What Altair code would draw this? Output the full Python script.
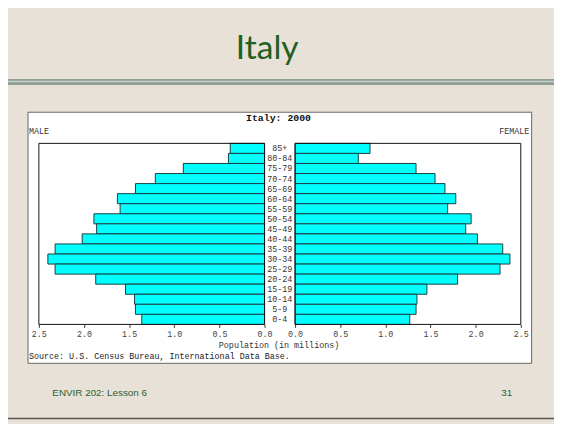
import altair as alt
import pandas as pd

# ---- data (millions) ----
ages = ["85+", "80-84", "75-79", "70-74", "65-69", "60-64", "55-59", "50-54", "45-49",
        "40-44", "35-39", "30-34", "25-29", "20-24", "15-19", "10-14", "5-9", "0-4"]
male = [0.38, 0.40, 0.90, 1.21, 1.43, 1.63, 1.60, 1.89, 1.86,
        2.02, 2.32, 2.40, 2.32, 1.87, 1.54, 1.44, 1.43, 1.36]
female = [0.83, 0.70, 1.34, 1.55, 1.66, 1.78, 1.69, 1.95, 1.89,
          2.02, 2.30, 2.38, 2.27, 1.80, 1.46, 1.35, 1.34, 1.27]
tick_labels = [0.0, 0.5, 1.0, 1.5, 2.0, 2.5]

df = pd.DataFrame({"age": ages, "male": male, "female": female})

# ---- layout ----
G = 0.169            # half gap (in data units) for the age-label column
XD = 2.5 + G
W_TOT, H_TOT = 554, 416
PW, PH = 489, 183.7
PL, PT = 31.3, 134.3
PX0, PY0 = 8 + PL, 8 + PT   # absolute page position of plot origin


def rx(x_abs):
    return x_abs - PX0


def ry(y_abs):
    return y_abs - PY0


one = alt.Data(values=[{"a": 1}])
MONO = "Liberation Mono"

xscale = alt.Scale(domain=[-XD, XD], nice=False, zero=False)
yscale = alt.Scale(domain=ages, paddingInner=0, paddingOuter=0)

tick_vals = [-(t + G) for t in tick_labels] + [t + G for t in tick_labels]
xaxis = alt.Axis(values=tick_vals, labelExpr=f"format(abs(abs(datum.value) - {G}), '.1f')",
                 title=None, grid=False, domain=False, tickSize=3, tickColor="#333",
                 labelFont=MONO, labelFontSize=8.5, labelColor="#444", labelPadding=2,
                 labelFlush=False, labelOverlap=False, zindex=1)

# slide decorations
band = alt.Chart(one).mark_rect(color="#8f9f97").encode(
    x=alt.value(rx(0)), x2=alt.value(rx(562)), y=alt.value(ry(77)), y2=alt.value(ry(83)))
band_hi = alt.Chart(one).mark_rule(color="#c3cfc9", strokeWidth=1.5).encode(
    x=alt.value(rx(0)), x2=alt.value(rx(562)), y=alt.value(ry(79.5)))
bottom_border = alt.Chart(one).mark_rule(color="#555", strokeWidth=1.5).encode(
    x=alt.value(rx(0)), x2=alt.value(rx(562)), y=alt.value(ry(421.5)))
title = alt.Chart(one).mark_text(text="Italy", font="Lato", fontSize=34, color="#1f5f1f",
                                 align="center", baseline="alphabetic").encode(
    x=alt.value(rx(271)), y=alt.value(ry(57)))
panel = alt.Chart(one).mark_rect(fill="white", stroke="#666", strokeWidth=1).encode(
    x=alt.value(rx(28.3)), x2=alt.value(rx(539.3)), y=alt.value(ry(110.7)), y2=alt.value(ry(365.5)))
footer_l = alt.Chart(one).mark_text(text="ENVIR 202: Lesson 6", font="Liberation Sans", fontSize=10,
                                    color="#2e5f2e", align="left", baseline="middle").encode(
    x=alt.value(rx(53)), y=alt.value(ry(396)))
footer_r = alt.Chart(one).mark_text(text="31", font="Liberation Sans", fontSize=10,
                                    color="#2e5f2e", align="center", baseline="middle").encode(
    x=alt.value(rx(514)), y=alt.value(ry(396)))

# chart texts
ctitle = alt.Chart(one).mark_text(text="Italy: 2000", font=MONO, fontSize=10, fontWeight="bold",
                                  color="#111", align="center", baseline="middle").encode(
    x=alt.value(rx(282.5)), y=alt.value(ry(116.7)))
male_t = alt.Chart(one).mark_text(text="MALE", font=MONO, fontSize=8.5, color="#333",
                                  align="left", baseline="middle").encode(
    x=alt.value(rx(29.3)), y=alt.value(ry(130)))
fem_t = alt.Chart(one).mark_text(text="FEMALE", font=MONO, fontSize=8.5, color="#333",
                                 align="right", baseline="middle").encode(
    x=alt.value(rx(537)), y=alt.value(ry(130)))
xtitle = alt.Chart(one).mark_text(text="Population (in millions)", font=MONO, fontSize=8.5,
                                  color="#333", align="center", baseline="middle").encode(
    x=alt.value(rx(283)), y=alt.value(ry(346.7)))
source = alt.Chart(one).mark_text(text="Source: U.S. Census Bureau, International Data Base.",
                                  font=MONO, fontSize=8.5, color="#222", align="left",
                                  baseline="middle").encode(
    x=alt.value(rx(29.3)), y=alt.value(ry(358.5)))

# bars
bars_m = alt.Chart(df).transform_calculate(
    xs=f"-{G}", xe=f"-datum.male - {G}"
).mark_bar(fill="#00FFFF", stroke="#173f3f", strokeWidth=1).encode(
    x=alt.X("xs:Q", scale=xscale, axis=xaxis), x2="xe:Q",
    y=alt.Y("age:N", scale=yscale, axis=None))
bars_f = alt.Chart(df).transform_calculate(
    xs=f"{G}", xe=f"datum.female + {G}"
).mark_bar(fill="#00FFFF", stroke="#173f3f", strokeWidth=1).encode(
    x=alt.X("xs:Q", scale=xscale, axis=xaxis), x2="xe:Q",
    y=alt.Y("age:N", scale=yscale, axis=None))

frame_m = alt.Chart(one).mark_rect(fill=None, stroke="#111", strokeWidth=1).encode(
    x=alt.datum(-XD), x2=alt.datum(-G), y=alt.value(0), y2=alt.value(PH))
frame_f = alt.Chart(one).mark_rect(fill=None, stroke="#111", strokeWidth=1).encode(
    x=alt.datum(G), x2=alt.datum(XD), y=alt.value(0), y2=alt.value(PH))

age_lbl = alt.Chart(df).mark_text(font=MONO, fontSize=8.5, color="#333",
                                  align="center", baseline="middle").encode(
    x=alt.datum(0), y=alt.Y("age:N", scale=yscale, axis=None), text="age:N")

chart = alt.layer(
    band, band_hi, bottom_border, title, panel, footer_l, footer_r,
    ctitle, male_t, fem_t, xtitle, source,
    bars_m, bars_f, frame_m, frame_f, age_lbl
).properties(
    width=PW, height=PH,
    autosize=alt.AutoSizeParams(type="none"),
    padding={"left": PL, "top": PT, "right": W_TOT - PL - PW, "bottom": H_TOT - PT - PH},
    background="#e7e1d7",
).configure_view(stroke=None)

chart.save("out.html", embed_options={"renderer": "svg", "actions": False})
